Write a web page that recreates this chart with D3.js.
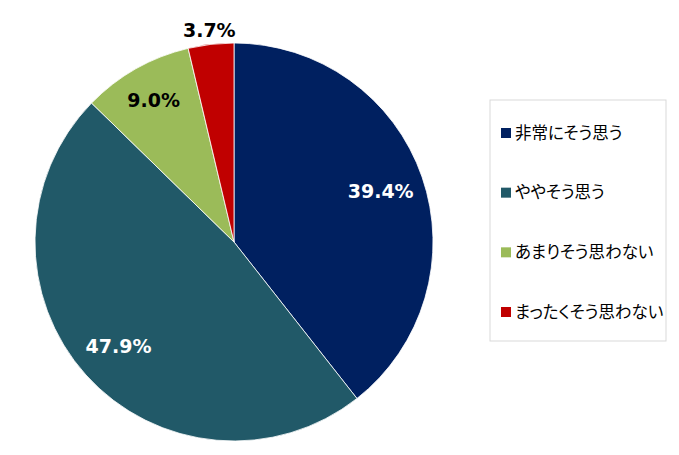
<!DOCTYPE html>
<html>
<head>
<meta charset="utf-8">
<script src="https://cdn.jsdelivr.net/npm/d3@7"></script>
<style>
  body { margin: 0; background: #fff; }
</style>
</head>
<body>
<div id="chart"></div>
<script>
const categories = ["非常にそう思う", "ややそう思う", "あまりそう思わない", "まったくそう思わない"];
const values = [39.4, 47.9, 9.0, 3.7];
const labels = ["39.4%", "47.9%", "9.0%", "3.7%"];
const colors = ["#002060", "#215968", "#9bbb59", "#c00000"];

{
  const width = 679, height = 455;
  const cx = 234, cy = 242, radius = 199;

  const svg = d3.select("#chart")
    .append("svg")
      .attr("width", width)
      .attr("height", height);

  const data = categories.map((c, i) => ({name: c, value: values[i], label: labels[i], color: colors[i]}));

  const pie = d3.pie()
    .sort(null)
    .value(d => d.value);

  const arc = d3.arc().innerRadius(0).outerRadius(radius);

  const g = svg.append("g")
    .attr("transform", "translate(" + cx + "," + cy + ")");

  const arcs = pie(data);

  g.selectAll("path")
    .data(arcs)
    .enter().append("path")
      .attr("d", arc)
      .attr("fill", d => d.data.color)
      .attr("stroke", "#fff")
      .attr("stroke-width", 0.8);

  // big slices: label inside, narrow slices a bit further out, tiny ones outside
  function labelPos(d) {
    let r = radius * 0.78;
    if (d.data.value < 5) r = radius * 1.07;
    else if (d.data.value < 15) r = radius * 0.82;
    const a = (d.startAngle + d.endAngle) / 2;
    return [Math.sin(a) * r, -Math.cos(a) * r];
  }

  g.selectAll("text.lbl")
    .data(arcs)
    .enter().append("text")
      .attr("class", "lbl")
      .attr("transform", d => "translate(" + labelPos(d) + ")")
      .attr("text-anchor", "middle")
      .attr("dy", "0.36em")
      .style("font", "bold 19px 'DejaVu Sans', Verdana, sans-serif")
      .attr("fill", d => (d.data.value > 20 ? "#fff" : "#000"))
      .text(d => d.data.label);

  // legend
  const lx = 490, ly = 100, lw = 176, lh = 241;
  const legend = svg.append("g");
  legend.append("rect")
    .attr("x", lx).attr("y", ly)
    .attr("width", lw).attr("height", lh)
    .attr("fill", "#fff")
    .attr("stroke", "#d9d9d9")
    .attr("stroke-width", 1);

  const ly0 = d3.scalePoint()
    .domain(categories)
    .range([ly + 33, ly + 212]);

  categories.forEach((c, i) => {
    legend.append("rect")
      .attr("x", lx + 11)
      .attr("y", ly0(c) - 5)
      .attr("width", 10)
      .attr("height", 10)
      .attr("fill", colors[i]);
    legend.append("text")
      .attr("x", lx + 25)
      .attr("y", ly0(c))
      .attr("dy", "0.35em")
      .style("font", "16.5px 'Noto Sans CJK JP', sans-serif")
      .style("font-feature-settings", "'palt'")
      .attr("fill", "#000")
      .text(c);
  });
}
</script>
</body>
</html>
